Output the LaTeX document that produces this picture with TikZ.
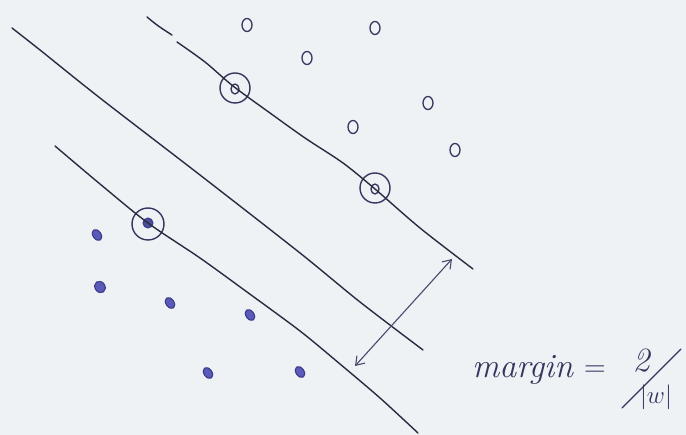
\documentclass[tikz,border=0pt]{standalone}
\usetikzlibrary{arrows.meta,shapes.geometric}
\definecolor{paper}{HTML}{EEF2F4}
\definecolor{ink}{HTML}{2A2B40}
\definecolor{pink}{HTML}{34365E}
\definecolor{bink}{HTML}{3C3C8C}
\definecolor{bfill}{HTML}{5A5AB8}
\tikzset{
  hand/.style={draw=ink, line width=1.4pt, line cap=round, line join=round},
  posdot/.style={ellipse, draw=pink, line width=1.3pt, minimum width=10pt, minimum height=13pt, inner sep=0pt},
  negdot/.style={ellipse, draw=bink, fill=bfill, line width=1.1pt, minimum width=8pt, minimum height=12pt, inner sep=0pt, rotate=35},
  negsv/.style={circle, fill=bfill!85!black, draw=bink, line width=1pt, minimum size=10pt, inner sep=0pt},
  ring/.style={circle, draw=pink, line width=1.4pt, minimum size=30pt, inner sep=0pt},
  dblarrow/.style={draw=pink!90!white, line width=1.1pt, {Straight Barb[length=8pt,width=11pt]}-{Straight Barb[length=8pt,width=11pt]}},
  lbl/.style={text=pink, font=\fontsize{34}{36}\selectfont\itshape, inner sep=0pt}
}
\begin{document}
\begin{tikzpicture}[x=1pt,y=-1pt]
\fill[paper] (0,0) rectangle (686,435);
\useasboundingbox (0,0) rectangle (686,435);

% positive class
\node[posdot] (p1) at (247,25) {};
\node[posdot] (p2) at (375,28) {};
\node[posdot] (p3) at (307,58) {};
\node[posdot] (p4) at (428,103) {};
\node[posdot] (p5) at (353,127) {};
\node[posdot] (p6) at (455,150) {};
\node[posdot, minimum width=8pt, minimum height=10pt] (sv1) at (235,89) {};
\node[ring] (r1) at (235,88) {};
\node[posdot, minimum width=8pt, minimum height=10pt] (sv2) at (375,189) {};
\node[ring] (r2) at (375,188) {};

% negative class
\node[negdot] (n1) at (97,235) {};
\node[negdot, minimum width=10pt] (n2) at (100,287) {};
\node[negdot] (n3) at (170,303) {};
\node[negdot] (n4) at (250,315) {};
\node[negdot] (n5) at (208,373) {};
\node[negdot] (n6) at (300,372) {};
\node[negsv] (sv3) at (148,223) {};
\node[ring, minimum size=32pt] (r3) at (148,224) {};

% upper margin line
\draw[hand] (147,17) .. controls (158,26) .. (172,35);
\draw[hand] plot[smooth, tension=0.5] coordinates {(177,42) (205,62) (233,86) (270,113) (305,138) (343,163) (375,189) (420,228) (473,269)};
% decision boundary
\draw[hand] plot[smooth, tension=0.5] coordinates {(12,28) (40,50) (100,98) (200,175) (300,253) (360,302) (423,350)};
% lower margin line
\draw[hand] plot[smooth, tension=0.5] coordinates {(55,146) (100,184) (148,223) (200,258) (247,292) (300,331) (340,364) (380,398) (418,433)};

% margin arrow
\coordinate (alow) at (355,366);
\coordinate (ahigh) at (452,259);
\draw[dblarrow] (alow) -- (ahigh);

% label
\node[lbl, anchor=base west] (mg) at (472,378) {margin};
\node[lbl, anchor=base west, font=\fontsize{30}{32}\selectfont] (eq) at (584,377) {=};
\node[lbl, anchor=base] (two) at (641,372) {2};
\node[lbl, anchor=base, font=\fontsize{30}{32}\selectfont] (absw) at (656,404) {$|w|$};
\coordinate (s1) at (681,349);
\coordinate (s2) at (622,408);
\draw[draw=pink, line width=1.3pt, line cap=round] (s1) -- (s2);
\end{tikzpicture}
\end{document}
